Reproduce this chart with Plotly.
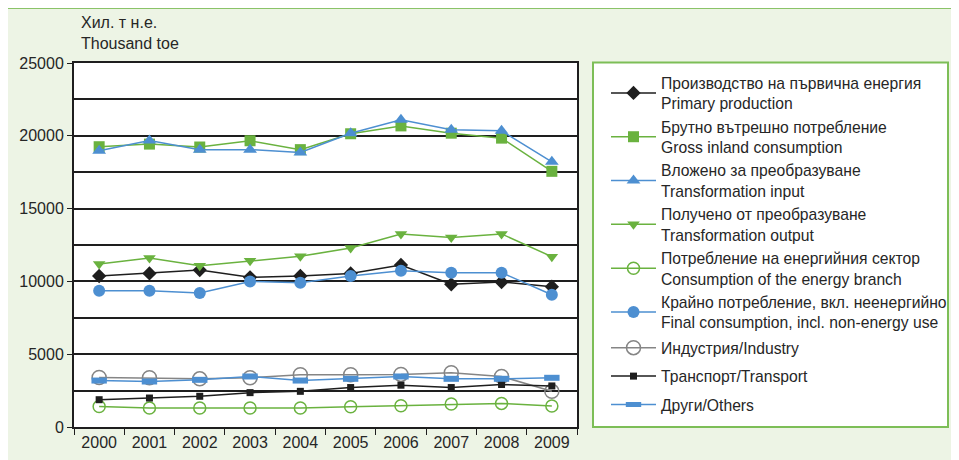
import plotly.graph_objects as go

years = ['2000', '2001', '2002', '2003', '2004', '2005', '2006', '2007', '2008', '2009']

primary_production = [10370, 10550, 10780, 10280, 10370, 10550, 11130, 9800, 9960, 9640]
gross_inland = [19250, 19430, 19230, 19660, 19050, 20140, 20680, 20180, 19840, 17560]
transformation_input = [18980, 19680, 19050, 19050, 18860, 20180, 21100, 20410, 20340, 18210]
transformation_output = [11200, 11600, 11080, 11420, 11720, 12300, 13260, 13020, 13260, 11700]
energy_branch = [1410, 1300, 1300, 1300, 1300, 1390, 1460, 1580, 1620, 1440]
final_consumption = [9360, 9360, 9200, 10000, 9910, 10370, 10730, 10600, 10600, 9080]
industry = [3400, 3380, 3310, 3380, 3590, 3590, 3610, 3730, 3470, 2450]
transport = [1875, 1990, 2110, 2360, 2450, 2710, 2870, 2710, 2920, 2820]
others = [3190, 3125, 3240, 3470, 3190, 3310, 3470, 3310, 3310, 3380]

GREEN = '#6AB23F'
BLUE = '#4D8FD1'
BLACK = '#1E1E1E'
GREY = '#858585'
TEXT = '#262626'

# name, values, colour, marker, which legend box
series = [
    ('Производство на първична енергия<br>Primary production', primary_production,
     BLACK, dict(symbol='diamond', size=11, color=BLACK), 'legend'),
    ('Брутно вътрешно потребление<br>Gross inland consumption', gross_inland,
     GREEN, dict(symbol='square', size=11, color=GREEN), 'legend'),
    ('Вложено за преобразуване<br>Transformation input', transformation_input,
     BLUE, dict(symbol='triangle-up', size=12, color=BLUE), 'legend'),
    ('Получено от преобразуване<br>Transformation output', transformation_output,
     GREEN, dict(symbol='triangle-down', size=11, color=GREEN), 'legend'),
    ('Потребление на енергийния сектор<br>Consumption of the energy branch', energy_branch,
     GREEN, dict(symbol='circle-open', size=12, color=GREEN, line=dict(width=1.5, color=GREEN)), 'legend'),
    ('Крайно потребление, вкл. неенергийно<br>Final consumption, incl. non-energy use', final_consumption,
     BLUE, dict(symbol='circle', size=12, color=BLUE), 'legend'),
    ('Индустрия/Industry', industry,
     GREY, dict(symbol='circle-open', size=14, color=GREY, line=dict(width=1.5, color=GREY)), 'legend2'),
    ('Транспорт/Transport', transport,
     BLACK, dict(symbol='square', size=7, color=BLACK), 'legend2'),
    ('Други/Others', others,
     BLUE, dict(symbol='line-ew', size=11, color=BLUE, line=dict(width=6, color=BLUE)), 'legend2'),
]

fig = go.Figure()
for i, (name, vals, col, mk, leg) in enumerate(series):
    fig.add_trace(go.Scatter(
        x=years, y=vals, name=name, mode='lines+markers',
        line=dict(color=col, width=1.5), marker=mk,
        legendgroup='g%d' % i, legend=leg,
    ))

# reference pixel -> paper coords (plot area sits at 74..577 x 63..427 on screen)
def px(x):
    return (x - 74) / 503

def py(y):
    return (427 - y) / 364

shapes = [
    # outer green frame
    dict(type='rect', xref='paper', yref='paper', x0=px(6), x1=px(956), y0=py(470), y1=py(7.5),
         line=dict(color='#6AB23F', width=2.5), fillcolor='rgba(0,0,0,0)', layer='below'),
    # tab at top right
    dict(type='rect', xref='paper', yref='paper', x0=px(728), x1=px(962), y0=py(6.5), y1=py(-5),
         line=dict(width=0), fillcolor='#B3D699', layer='below'),
    # legend box
    dict(type='rect', xref='paper', yref='paper', x0=px(593), x1=px(948), y0=py(427), y1=py(62.5),
         line=dict(color='#7DBE57', width=2), fillcolor='white', layer='below'),
]

leg_common = dict(
    xanchor='left', yanchor='top', bgcolor='rgba(0,0,0,0)', borderwidth=0,
    traceorder='grouped', font=dict(size=15.7, color=TEXT), itemwidth=45, maxheight=500,
)

# page body has an 8px margin: margins shifted by 8px, figure made 8px larger (clipped by window)
fig.update_layout(
    width=967, height=468,
    margin=dict(l=66, r=398, t=55, b=49),
    paper_bgcolor='#EDF4E5',
    plot_bgcolor='white',
    font=dict(family='Liberation Sans, Arial, sans-serif', size=16, color=TEXT),
    shapes=shapes,
    showlegend=True,
    legend=dict(x=px(606), y=py(66), tracegroupgap=0, **leg_common),
    legend2=dict(x=px(606), y=py(331), tracegroupgap=5, **leg_common),
    annotations=[
        dict(text='Хил. т н.е.<br>Thousand toe', xref='paper', yref='paper',
             x=px(79), y=py(12), xanchor='left', yanchor='top', showarrow=False, align='left',
             font=dict(size=16, color=TEXT)),
    ],
)

fig.update_xaxes(
    type='category', tickson='boundaries', ticks='outside', ticklen=6, tickcolor=BLACK,
    showline=True, linecolor=BLACK, linewidth=2, mirror=True, showgrid=False,
    tickfont=dict(size=16, color=TEXT), range=[-0.5, 9.5],
)
fig.update_yaxes(
    range=[0, 25000], dtick=5000, tickmode='linear', tickformat='d',
    ticks='outside', ticklen=5, tickcolor=BLACK,
    showline=True, linecolor=BLACK, linewidth=2, mirror=True,
    showgrid=True, gridcolor=BLACK, gridwidth=2,
    minor=dict(dtick=2500, showgrid=True, gridcolor=BLACK, gridwidth=2),
    zeroline=False, tickfont=dict(size=16, color=TEXT),
)

fig.write_html('out.html')
